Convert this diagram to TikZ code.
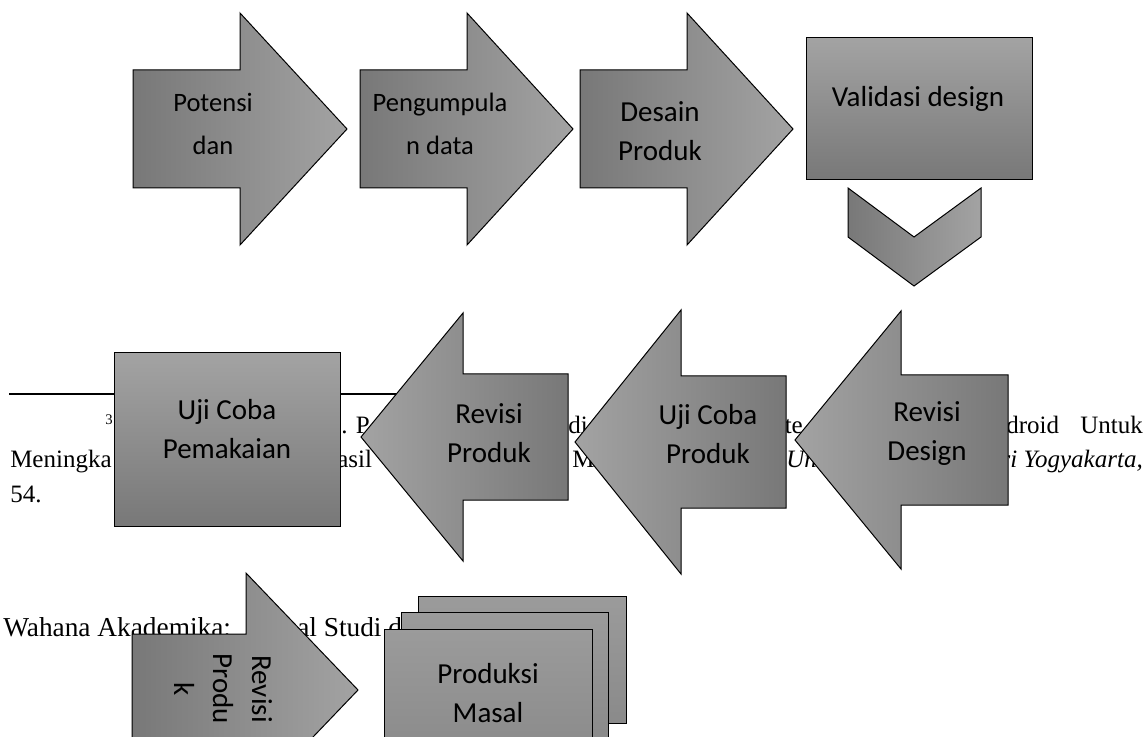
\documentclass[tikz,border=0pt]{standalone}
\usepackage{fontspec}
\setmainfont{Liberation Serif}
\newfontfamily\boxfont{Carlito}
\usetikzlibrary{positioning}
\definecolor{greyD}{HTML}{787878}
\definecolor{greyL}{HTML}{A3A3A3}
\definecolor{stackT}{HTML}{9B9B9B}
\definecolor{stackB}{HTML}{8A8A8A}

\begin{document}
\begin{tikzpicture}[
  x=0.75pt, y=-0.75pt,
  shp/.style={draw=black, line width=0.75pt},
  toR/.style={shp, left color=greyD, right color=greyL},
  toL/.style={shp, left color=greyL, right color=greyD},
  toD/.style={shp, top color=greyL, bottom color=greyD},
  stk/.style={shp, top color=stackT, bottom color=stackB},
  lbl/.style={font=\boxfont\fontsize{21.75}{29.25}\selectfont, align=center, inner sep=0pt},
  lblsm/.style={lbl, font=\boxfont\fontsize{19.9}{32}\selectfont},
  fn/.style={font=\fontsize{18.75}{22}\selectfont, inner sep=0pt, anchor=base west},
  % block arrows: body length, head length, body half width, head half width
  pics/rarr/.style n args={4}{code={
    \draw[toR] (0,-#3) -- (#1,-#3) -- (#1,-#4) -- (#1+#2,0) -- (#1,#4) -- (#1,#3) -- (0,#3) -- cycle;}},
  pics/larr/.style n args={4}{code={
    \draw[toL] (0,0) -- (#2,-#4) -- (#2,-#3) -- (#1+#2,-#3) -- (#1+#2,#3) -- (#2,#3) -- (#2,#4) -- cycle;}},
]
  \path[use as bounding box, fill=white] (0,0) rectangle (1148,737);

  % page text behind the chart
  \draw[line width=1.1pt] (9,394) -- (450,394);
  \node[fn, font=\fontsize{11}{12}\selectfont] (fnmark) at (105,424) {3};
  \node[fn] (fnA) at (341,433) {. P};
  \node[fn] (fnB) at (557,433) {edi};
  \node[fn] (fnC) at (772,433) {nte};
  \node[fn] (fnD) at (1006,433) {droid};
  \node[fn, anchor=base east] (fnE) at (1143,433) {Untuk};
  \node[fn] (fnF) at (10,467) {Meningka};
  \node[fn] (fnG) at (337,467) {asil};
  \node[fn] (fnH) at (572,467) {M};
  \node[fn] (fnI) at (786,467) {\itshape Un};
  \node[fn, anchor=base east] (fnJ) at (1143,467) {\itshape ri Yogyakarta,};
  \node[fn] (fnK) at (10,502) {54.};
  \node[fn, font=\fontsize{20.5}{24}\selectfont] (hdA) at (3,636) {Wahana Akademika:};
  \node[fn, font=\fontsize{20.5}{24}\selectfont] (hdB) at (297,636) {al Studi d};

  % first row
  \pic at (133,129) {rarr={107}{107}{59}{116}};
  \pic at (360,129) {rarr={107}{106}{59}{116}};
  \pic at (580,129) {rarr={107}{106}{59}{116}};
  \draw[toD] (806,38) rectangle (1032,180);
  \draw[toR] (848,188) -- (914,237) -- (981,188) -- (981,237) -- (914,286) -- (848,237) -- cycle;
  \node[lblsm] (pot) at (213,124) {Potensi\\dan};
  \node[lblsm] (kump) at (440,124) {Pengumpula\\n data};
  \node[lbl] (desain) at (660,131) {Desain\\Produk};
  \node[lbl] (valid) at (918,99) {Validasi design};

  % second row, right to left
  \pic at (795,440) {larr={107}{106}{65}{129}};
  \pic at (575,442) {larr={105}{106}{66}{132}};
  \pic at (361,437) {larr={105}{102}{63}{124}};
  \draw[toD] (114,353) rectangle (340,526);
  \node[lbl] (revdes) at (927,434) {Revisi\\Design};
  \node[lbl] (ujiprod) at (708,434) {Uji Coba\\Produk};
  \node[lbl] (revprod) at (489,433) {Revisi\\Produk};
  \node[lbl] (ujipakai) at (227,429) {Uji Coba\\Pemakaian};

  % third row
  \pic at (132,690) {rarr={114}{112}{56}{117}};
  \node[lbl, rotate=-90] (revprodb) at (223,689) {Revisi\\Produ\\k};
  \draw[stk] (418,596) rectangle (626,723);
  \draw[stk] (401,612) rectangle (608,740);
  \draw[stk] (384,629) rectangle (592,757);
  \node[lbl] (masal) at (488,693) {Produksi\\Masal};
\end{tikzpicture}
\end{document}
